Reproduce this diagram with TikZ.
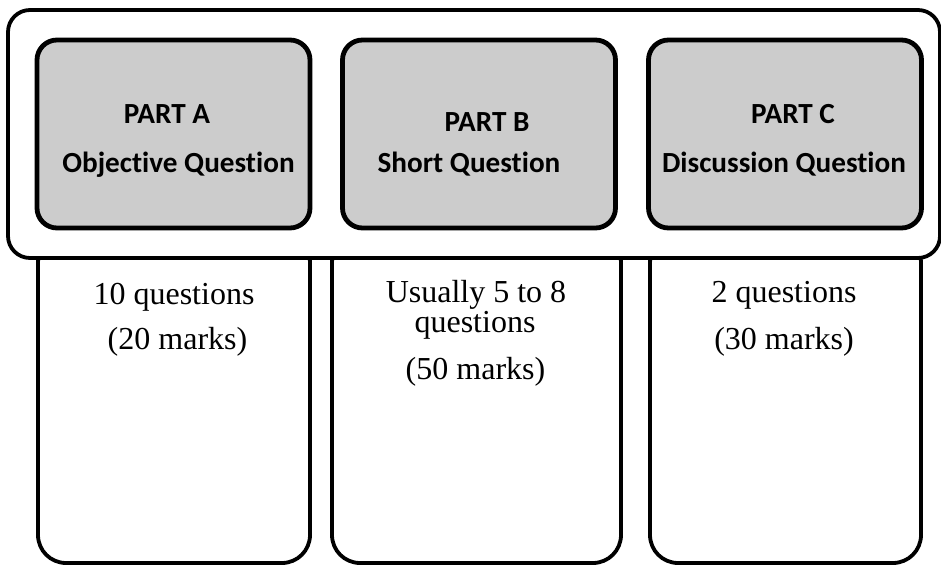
\documentclass[tikz,border=0pt]{standalone}
\usepackage{fontspec}
\setmainfont{Liberation Serif}
\newfontfamily\partfont{Carlito}[Ligatures=NoCommon]
\definecolor{partgrey}{RGB}{204,204,204}
\tikzset{
  partbox/.style={draw, line width=2.4pt, fill=partgrey, rounded corners=10pt,
    minimum width=136.5pt, minimum height=94pt},
  infobox/.style={draw, line width=1.9pt, fill=white, rounded corners=14pt,
    minimum height=164pt},
  parttext/.style={anchor=base, inner sep=0pt, font=\fontsize{14.6}{17}\selectfont\partfont\bfseries},
  infotext/.style={anchor=base, inner sep=0pt, font=\fontsize{16}{19}\selectfont}
}
\begin{document}
\begin{tikzpicture}[x=0.5pt,y=-0.5pt]
\useasboundingbox (0,0) rectangle (941,565);

% lower boxes
\node[infobox, minimum width=136pt] (infoA) at (174,399) {};
\node[infobox, minimum width=144.5pt] (infoB) at (476.5,399) {};
\node[infobox, minimum width=135.5pt] (infoC) at (785.5,399) {};

% frame round the three parts
\node[draw, line width=1.9pt, fill=white, rounded corners=11pt,
  minimum width=466pt, minimum height=124pt] (frame) at (474,134) {};

% grey boxes
\node[partbox] (partA) at (173.5,134) {};
\node[partbox] (partB) at (479,134) {};
\node[partbox] (partC) at (785,134) {};

\node[parttext] (titleA) at (167,124) {PART A};
\node[parttext] (nameA) at (178.5,173) {Objective Question};
\node[parttext] (titleB) at (487,132) {PART B};
\node[parttext] (nameB) at (469,173) {Short Question};
\node[parttext] (titleC) at (793,124) {PART C};
\node[parttext] (nameC) at (784,173) {Discussion Question};

% texts under the parts
\node[infotext] (countA) at (174,305) {10 questions};
\node[infotext] (marksA) at (177.5,350) {(20 marks)};
\node[infotext] (countB) at (476,303) {Usually 5 to 8};
\node[infotext] (countBb) at (475,333) {questions};
\node[infotext] (marksB) at (475.5,380) {(50 marks)};
\node[infotext] (countC) at (784,303) {2 questions};
\node[infotext] (marksC) at (784,350) {(30 marks)};
\end{tikzpicture}
\end{document}
